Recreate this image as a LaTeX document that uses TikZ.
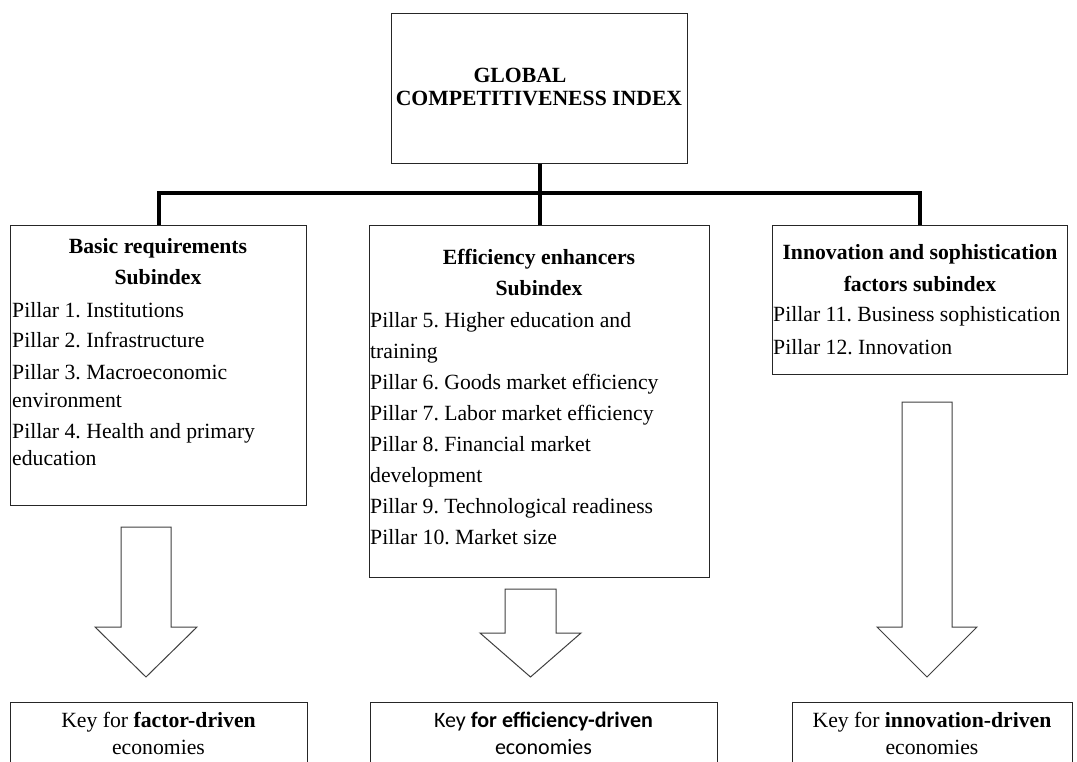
\documentclass[tikz,border=0pt]{standalone}
\usepackage{fontspec}
\setmainfont{Liberation Serif}
\newfontfamily\calibrifont{Carlito}
\frenchspacing

% block arrow pointing down: centre x, top, head base, tip, shaft half width, head half width
\newcommand{\blockarrow}[6]{%
  \draw[bigarrow] (#1-#5,#2) -- (#1+#5,#2) -- (#1+#5,#3) -- (#1+#6,#3)
    -- (#1,#4) -- (#1-#6,#3) -- (#1-#5,#3) -- cycle;}

\begin{document}
\begin{tikzpicture}[x=1pt,y=-1pt,
  box/.style={draw=black!85, line width=1.2pt, fill=white, inner sep=0pt, anchor=north west},
  txt/.style={inner sep=0pt, font=\fontsize{21.7}{26}\selectfont},
  lft/.style={txt, anchor=base west},
  ctr/.style={txt, anchor=base},
  hdr/.style={ctr, font=\fontsize{21.7}{26}\selectfont\bfseries},
  keysans/.style={ctr, font=\fontsize{22}{26}\selectfont\calibrifont},
  bus/.style={line width=4pt, line join=miter},
  bigarrow/.style={draw=black!75, line width=1pt, fill=white, line join=miter}]

\useasboundingbox (0,0) rectangle (1077,762);
\clip (0,0) rectangle (1077,762);

% boxes
\node[box, minimum width=296pt, minimum height=150pt] (gci) at (391,13) {};
\node[box, minimum width=296pt, minimum height=280pt] (b1) at (10,225) {};
\node[box, minimum width=340pt, minimum height=352pt] (b2) at (369,225) {};
\node[box, minimum width=295pt, minimum height=149pt] (b3) at (772,225) {};
\node[box, minimum width=297pt, minimum height=100pt] (k1) at (10,702) {};
\node[box, minimum width=347pt, minimum height=100pt] (k2) at (370,702) {};
\node[box, minimum width=280pt, minimum height=100pt] (k3) at (792,702) {};

% tree connectors
\coordinate (hub) at (539,193);
\draw[bus] (gci.south) -- (b2.north);
\draw[bus] (b1.north) |- (hub) -| (b3.north);

% block arrows
\blockarrow{146}{527}{627}{677}{25}{51}
\blockarrow{530.5}{589}{633}{677}{25.5}{50.5}
\blockarrow{927}{402}{627}{677}{25}{50}

% title
\node[hdr] (t1) at (520,83) {GLOBAL};
\node[hdr] (t2) at (539,106) {COMPETITIVENESS INDEX};

% basic requirements
\node[hdr] (h1a) at (158,254) {Basic requirements};
\node[hdr] (h1b) at (158,284) {Subindex};
\node[lft] (p1) at (12,317) {Pillar 1. Institutions};
\node[lft] (p2) at (12,348) {Pillar 2. Infrastructure};
\node[lft] (p3) at (12,379) {Pillar 3. Macroeconomic};
\node[lft] (p3b) at (12,407) {environment};
\node[lft] (p4) at (12,438) {Pillar 4. Health and primary};
\node[lft] (p4b) at (12,465) {education};

% efficiency enhancers
\node[hdr] (h2a) at (539,265) {Efficiency enhancers};
\node[hdr] (h2b) at (539,296) {Subindex};
\node[lft] (p5) at (370,327) {Pillar 5. Higher education and};
\node[lft] (p5b) at (370,358) {training};
\node[lft] (p6) at (370,389) {Pillar 6. Goods market efficiency};
\node[lft] (p7) at (370,420) {Pillar 7. Labor market efficiency};
\node[lft] (p8) at (370,451) {Pillar 8. Financial market};
\node[lft] (p8b) at (370,482) {development};
\node[lft] (p9) at (370,513) {Pillar 9. Technological readiness};
\node[lft] (p10) at (370,544) {Pillar 10. Market size};

% innovation
\node[hdr] (h3a) at (920,260) {Innovation and sophistication};
\node[hdr] (h3b) at (920,291) {factors subindex};
\node[lft] (p11) at (773,322) {Pillar 11. Business sophistication};
\node[lft] (p12) at (773,354) {Pillar 12. Innovation};

% keys
\node[ctr] (k1a) at (158.5,727) {Key for \textbf{factor-driven}};
\node[ctr] (k1b) at (158.5,754) {economies};
\node[keysans] (k2a) at (543.5,727) {Key \textbf{for efficiency-driven}};
\node[keysans] (k2b) at (543.5,754) {economies};
\node[ctr] (k3a) at (932,727) {Key for \textbf{innovation-driven}};
\node[ctr] (k3b) at (932,754) {economies};
\end{tikzpicture}
\end{document}
